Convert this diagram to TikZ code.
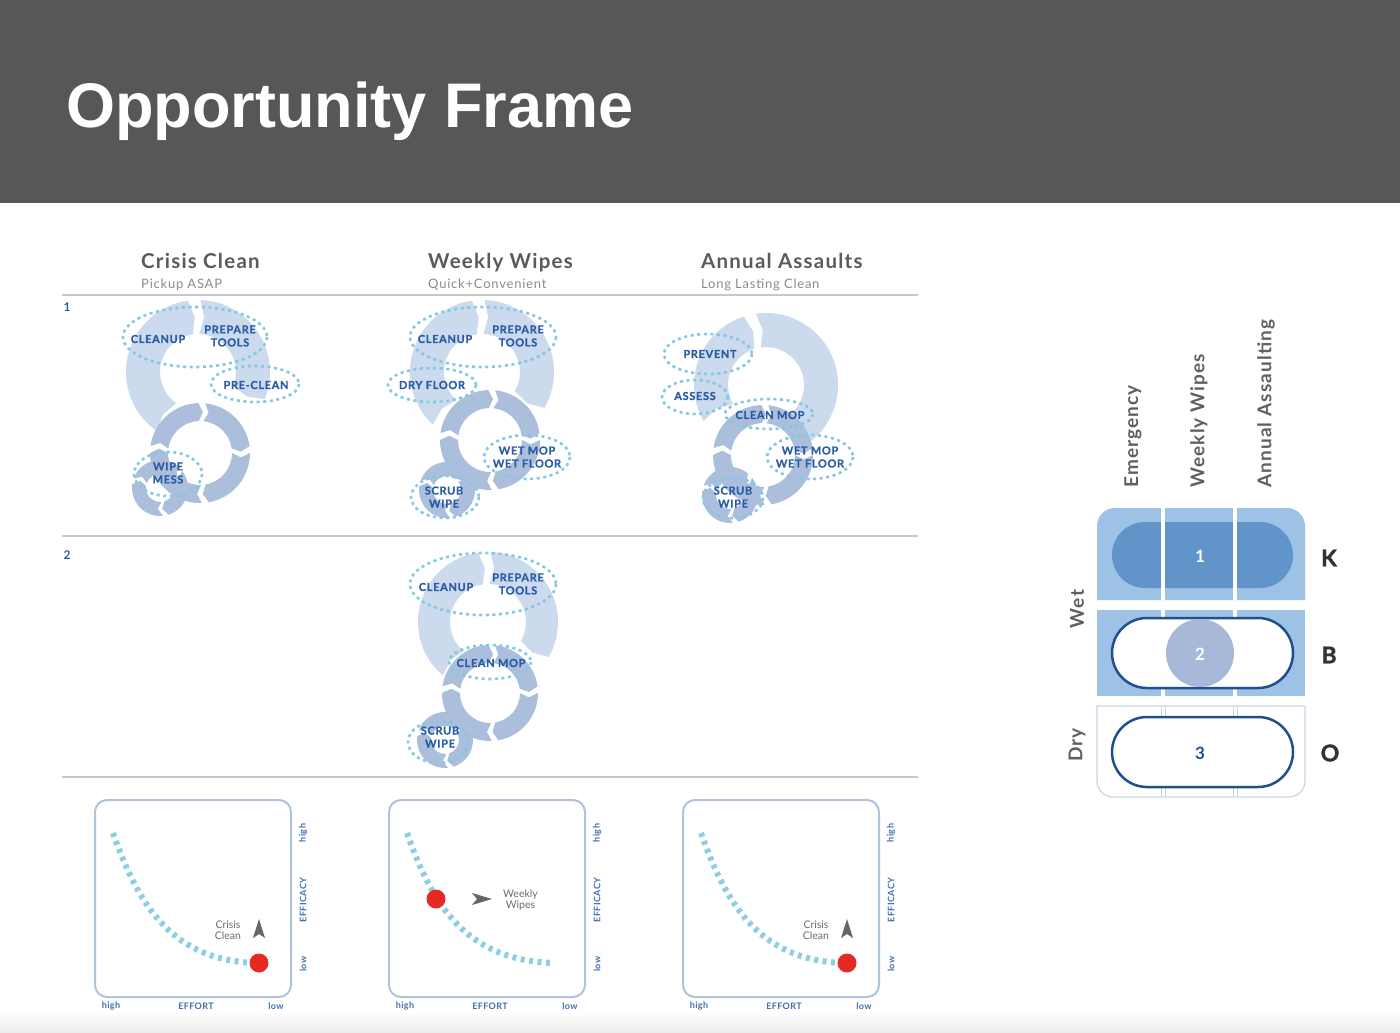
\documentclass[tikz,border=0pt]{standalone}
\usepackage{fontspec}
\setmainfont{Lato}
\newfontfamily\titlefont{Liberation Sans}
\newfontfamily\spaced{Lato}[LetterSpace=6]
\newfontfamily\spacedb{Lato}[LetterSpace=4]
\usetikzlibrary{calc}
\definecolor{hdr}{HTML}{575757}
\definecolor{headgray}{HTML}{5A5A5A}
\definecolor{subgray}{HTML}{8A8A8A}
\definecolor{rulegray}{HTML}{C8C8C8}
\definecolor{numblue}{HTML}{2B5FA6}
\definecolor{lblblue}{HTML}{2A5CA5}
\definecolor{bigc}{HTML}{CBDAED}
\definecolor{medc}{HTML}{ABBEDC}
\definecolor{dashc}{HTML}{84C8E2}
\definecolor{boxc}{HTML}{B0C2DC}
\definecolor{curvec}{HTML}{8CCFE0}
\definecolor{dotred}{HTML}{E32B24}
\definecolor{arrowgray}{HTML}{666666}
\definecolor{axisblue}{HTML}{3F6FAE}
\definecolor{notegray}{HTML}{6A6A6A}
\definecolor{cellc}{HTML}{9EC2E6}
\definecolor{pillc}{HTML}{6194C8}
\definecolor{pilledge}{HTML}{1F4F8F}
\definecolor{circc}{HTML}{A7B9D9}
\definecolor{sepc}{HTML}{C9D5E6}
\definecolor{panelgray}{HTML}{606060}
\definecolor{letgray}{HTML}{333333}
\newcommand{\rseg}[7]{%
  \fill[#7] ($(#1,#2)+(#5:#4)$) arc[start angle=#5,end angle=#6,radius=#4]
   -- ($(#1,#2)+({#6+500/(#3+#4)}:{(#3+#4)/2})$)
   -- ($(#1,#2)+(#6:#3)$) arc[start angle=#6,end angle=#5,radius=#3]
   -- ($(#1,#2)+({#5+500/(#3+#4)}:{(#3+#4)/2})$) -- cycle;}
\newcommand{\medring}[4]{% cx cy ri ro
  \rseg{#1}{#2}{#3}{#4}{188}{268}{medc}
  \rseg{#1}{#2}{#3}{#4}{276}{352}{medc}
  \rseg{#1}{#2}{#3}{#4}{360}{440}{medc}
  \rseg{#1}{#2}{#3}{#4}{448}{540}{medc}}
\newcommand{\smallring}[2]{%
  \rseg{#1}{#2}{14}{28}{200}{310}{medc}
  \rseg{#1}{#2}{14}{28}{322}{432}{medc}
  \rseg{#1}{#2}{14}{28}{444}{548}{medc}}
\tikzset{
  lbl/.style={font=\spaced\bfseries\addfontfeature{FakeBold=0.6}\fontsize{11}{13}\selectfont, text=lblblue, align=center, inner sep=0pt},
  dashell/.style={draw=dashc, line width=2.6pt, dash pattern=on 3pt off 3.6pt},
  colhead/.style={font=\spaced\bfseries\fontsize{20.5}{22}\selectfont, text=headgray, anchor=base west, inner sep=0pt},
  colsub/.style={font=\spaced\fontsize{13}{14}\selectfont, text=subgray, anchor=base west, inner sep=0pt},
  rownum/.style={font=\bfseries\fontsize{12}{12}\selectfont, text=numblue, inner sep=0pt},
  cbox/.style={draw=boxc, line width=2pt, rounded corners=12pt},
  effcurve/.style={draw=curvec, line width=6pt, dash pattern=on 4pt off 4.5pt},
  reddot/.style={circle, fill=dotred, minimum size=19pt, inner sep=0pt},
  axl/.style={font=\spacedb\bfseries\fontsize{9}{10}\selectfont, text=axisblue, inner sep=0pt},
  note/.style={font=\fontsize{10.5}{11}\selectfont, text=notegray, align=center, inner sep=0pt},
  vlab/.style={font=\spaced\bfseries\fontsize{19}{20}\selectfont, text=panelgray, rotate=90, inner sep=0pt},
  rowlet/.style={font=\bfseries\addfontfeature{FakeBold=1.5}\fontsize{23}{23}\selectfont, text=letgray, inner sep=0pt},
  pillnum/.style={font=\bfseries\fontsize{17}{17}\selectfont, inner sep=0pt},
}
\begin{document}
\begin{tikzpicture}[x=1pt,y=-1pt]
\useasboundingbox (0,0) rectangle (1400,1033);
% header
\fill[hdr] (0,0) rectangle (1400,203);
\node[font=\titlefont\bfseries\fontsize{63}{70}\selectfont, text=white, anchor=base west, inner sep=0pt] (title) at (66,127) {Opportunity Frame};
% bottom band
\shade[top color=white, bottom color=black!8] (0,1012) rectangle (1400,1033);
% column headings
\node[colhead] (h1) at (141,268) {Crisis Clean};
\node[colsub] (s1) at (141,288) {Pickup ASAP};
\node[colhead] (h2) at (428,268) {Weekly Wipes};
\node[colsub] (s2) at (428,288) {Quick+Convenient};
\node[colhead] (h3) at (701,268) {Annual Assaults};
\node[colsub] (s3) at (701,288) {Long Lasting Clean};
% rules
\draw[rulegray, line width=2.4pt] (62,295) -- (918,295);
\draw[rulegray, line width=1.4pt] (62,536) -- (918,536);
\draw[rulegray, line width=1.4pt] (62,777) -- (918,777);
\node[rownum] (r1) at (67,307) {1};
\node[rownum] (r2) at (67,555) {2};

% ---------- Diagram 1: Crisis Clean ----------
\rseg{198}{372}{38}{72}{125}{262}{bigc}
\rseg{198}{372}{38}{72}{272}{382}{bigc}
\medring{200}{453}{32}{50}
\smallring{160}{488}
\draw[dashell] (195,337) ellipse [x radius=72, y radius=30];
\draw[dashell] (255,384) ellipse [x radius=44, y radius=18];
\draw[dashell] (168,474) ellipse [x radius=34, y radius=22];
\node[lbl] (a1) at (158,339) {CLEANUP};
\node[lbl] (a2) at (230,336) {PREPARE\\TOOLS};
\node[lbl] (a3) at (256,385) {PRE-CLEAN};
\node[lbl] (a4) at (168,473) {WIPE\\MESS};

% ---------- Diagram 2: Weekly Wipes ----------
\rseg{482}{372}{38}{72}{133}{262}{bigc}
\rseg{482}{372}{38}{72}{272}{390}{bigc}
\medring{490}{440}{32}{50}
\smallring{447}{490}
\draw[dashell] (483,337) ellipse [x radius=73, y radius=30];
\draw[dashell] (432,385) ellipse [x radius=44, y radius=17];
\draw[dashell] (527,457) ellipse [x radius=43, y radius=22];
\draw[dashell] (445,497) ellipse [x radius=34, y radius=21];
\node[lbl] (b1) at (445,339) {CLEANUP};
\node[lbl] (b2) at (518,336) {PREPARE\\TOOLS};
\node[lbl] (b3) at (432,385) {DRY FLOOR};
\node[lbl] (b4) at (527,457) {WET MOP\\WET FLOOR};
\node[lbl] (b5) at (444,497) {SCRUB\\WIPE};

% ---------- Diagram 3: Annual Assaults ----------
\rseg{766}{385}{38}{72}{150}{252}{bigc}
\rseg{766}{385}{38}{72}{262}{420}{bigc}
\medring{763}{455}{32}{50}
\smallring{730}{495}
\draw[dashell] (708,354) ellipse [x radius=44, y radius=20];
\draw[dashell] (695,397) ellipse [x radius=33, y radius=17];
\draw[dashell] (769,414) ellipse [x radius=44, y radius=15];
\draw[dashell] (810,457) ellipse [x radius=43, y radius=22];
\draw[dashell] (733,498) ellipse [x radius=30, y radius=20];
\node[lbl] (c1) at (710,354) {PREVENT};
\node[lbl] (c2) at (695,396) {ASSESS};
\node[lbl] (c3) at (770,415) {CLEAN MOP};
\node[lbl] (c4) at (810,457) {WET MOP\\WET FLOOR};
\node[lbl] (c5) at (733,497) {SCRUB\\WIPE};

% ---------- Diagram 4: row 2 ----------
\rseg{488}{622}{38}{70}{130}{262}{bigc}
\rseg{488}{622}{38}{70}{272}{390}{bigc}
\medring{490}{693}{30}{48}
\smallring{445}{740}
\draw[dashell] (483,584) ellipse [x radius=73, y radius=31];
\draw[dashell] (490,662) ellipse [x radius=41, y radius=17];
\draw[dashell] (438,742) ellipse [x radius=30, y radius=21];
\node[lbl] (d1) at (446,587) {CLEANUP};
\node[lbl] (d2) at (518,584) {PREPARE\\TOOLS};
\node[lbl] (d3) at (491,663) {CLEAN MOP};
\node[lbl] (d4) at (440,737) {SCRUB\\WIPE};

% ---------- Charts ----------
\begin{scope}[shift={(95,800)}]
\draw[cbox] (0,0) rectangle (196,197);
\draw[effcurve] (18,33) .. controls (45,110) and (80,160) .. (160,163);
\node[reddot] (p1) at (164,163) {};
\fill[arrowgray] (164,119) -- (158,138) -- (164,134) -- (170,138) -- cycle;
\node[note] (q1) at (133,130) {Crisis\\Clean};
\node[axl] (x1a) at (16,206) {high};
\node[axl] (x1b) at (101,206) {EFFORT};
\node[axl] (x1c) at (181,206) {low};
\node[axl, rotate=90] (y1a) at (208,33) {high};
\node[axl, rotate=90] (y1b) at (208,100) {EFFICACY};
\node[axl, rotate=90] (y1c) at (208,164) {low};
\end{scope}

\begin{scope}[shift={(389,800)}]
\draw[cbox] (0,0) rectangle (196,197);
\draw[effcurve] (18,33) .. controls (45,110) and (80,160) .. (164,163);
\node[reddot] (p2) at (47,99) {};
\fill[arrowgray] (103,99) -- (83,93) -- (88,99) -- (83,105) -- cycle;
\node[note, anchor=west] (q2) at (114,100) {Weekly\\Wipes};
\node[axl] (x2a) at (16,206) {high};
\node[axl] (x2b) at (101,206) {EFFORT};
\node[axl] (x2c) at (181,206) {low};
\node[axl, rotate=90] (y2a) at (208,33) {high};
\node[axl, rotate=90] (y2b) at (208,100) {EFFICACY};
\node[axl, rotate=90] (y2c) at (208,164) {low};
\end{scope}

\begin{scope}[shift={(683,800)}]
\draw[cbox] (0,0) rectangle (196,197);
\draw[effcurve] (18,33) .. controls (45,110) and (80,160) .. (160,163);
\node[reddot] (p3) at (164,163) {};
\fill[arrowgray] (164,119) -- (158,138) -- (164,134) -- (170,138) -- cycle;
\node[note] (q3) at (133,130) {Crisis\\Clean};
\node[axl] (x3a) at (16,206) {high};
\node[axl] (x3b) at (101,206) {EFFORT};
\node[axl] (x3c) at (181,206) {low};
\node[axl, rotate=90] (y3a) at (208,33) {high};
\node[axl, rotate=90] (y3b) at (208,100) {EFFICACY};
\node[axl, rotate=90] (y3c) at (208,164) {low};
\end{scope}

% ---------- Right panel ----------
\node[vlab, anchor=west] (e1) at (1133,488) {Emergency};
\node[vlab, anchor=west] (e2) at (1199,488) {Weekly Wipes};
\node[vlab, anchor=west] (e3) at (1266,488) {Annual Assaulting};
\node[vlab] (wet) at (1077,609) {Wet};
\node[vlab] (dry) at (1077,745) {Dry};
% row K
\fill[cellc] (1097,600) -- (1097,526) arc[start angle=180,end angle=270,radius=18]
  -- (1287,508) arc[start angle=270,end angle=360,radius=18] -- (1305,600) -- cycle;
\fill[pillc, rounded corners=33pt] (1112,522) rectangle (1293,588);
\draw[white, line width=4pt] (1163,508) -- (1163,600);
\draw[white, line width=4pt] (1235,508) -- (1235,600);
\node[pillnum, text=white] (n1) at (1200,556) {1};
% row B
\fill[cellc] (1097,610) rectangle (1305,696);
\draw[white, line width=4pt] (1163,610) -- (1163,696);
\draw[white, line width=4pt] (1235,610) -- (1235,696);
\draw[pilledge, fill=white, line width=2.5pt, rounded corners=35pt] (1112,618) rectangle (1293,688);
\fill[circc] (1200,653) circle[radius=34];
\node[pillnum, text=white] (n2) at (1200,654) {2};
% row O
\draw[sepc, line width=1.2pt] (1097,706) -- (1097,781) arc[start angle=180,end angle=90,radius=16]
  -- (1289,797) arc[start angle=90,end angle=0,radius=16] -- (1305,706) -- cycle;
\draw[sepc, line width=1pt] (1161,706) -- (1161,797);
\draw[sepc, line width=1pt] (1165,706) -- (1165,797);
\draw[sepc, line width=1pt] (1233,706) -- (1233,797);
\draw[sepc, line width=1pt] (1237,706) -- (1237,797);
\draw[pilledge, fill=white, line width=2.5pt, rounded corners=35pt] (1112,717) rectangle (1293,787);
\node[pillnum, text=pilledge] (n3) at (1200,753) {3};
% row letters
\node[rowlet] (k) at (1329,558) {K};
\node[rowlet] (b) at (1329,655) {B};
\node[rowlet] (o) at (1330,753) {O};
\end{tikzpicture}
\end{document}
